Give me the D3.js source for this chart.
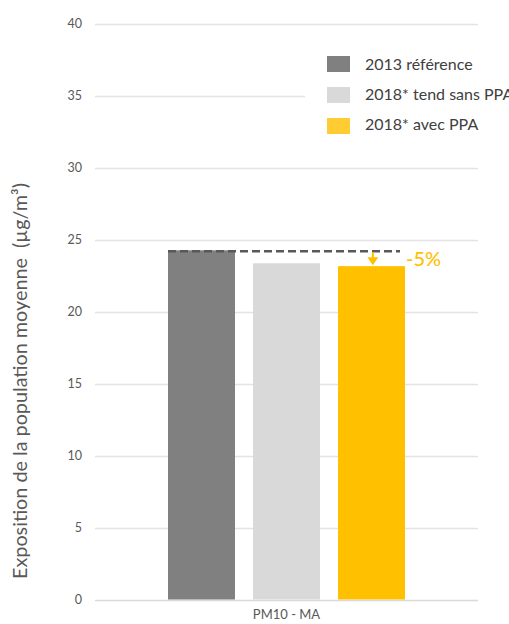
<!DOCTYPE html>
<html><head><meta charset="utf-8">
<script src="https://cdn.jsdelivr.net/npm/d3@7"></script>
<style>body{margin:0;background:#fff;overflow:hidden}svg{display:block}</style>
</head><body>
<script>
const categories = ["PM10 - MA"];
const seriesNames = ["2013 référence", "2018* tend sans PPA", "2018* avec PPA"];
const seriesValues = [24.25, 23.35, 23.15];
const seriesColors = ["#808080", "#D9D9D9", "#FFC000"];
const legendColors = ["#808080", "#D9D9D9", "#FFCC33"];
const yTicks = [0, 5, 10, 15, 20, 25, 30, 35, 40];
const annotationText = "-5%";
const yTitle = "Exposition de la population moyenne  (µg/m³)";

const W = 509, H = 624;
const font = "Lato, 'Noto Sans', sans-serif";
const svg = d3.select("body").append("svg").attr("width", W).attr("height", H);

const plotLeft = 95, plotRight = 478, plotTop = 23.5, plotBottom = 599.5;
const y = d3.scaleLinear().domain([0, 40]).range([plotBottom, plotTop]);
const x0 = d3.scaleBand().domain(categories).range([plotLeft, plotRight]).paddingInner(0).paddingOuter(0.308);
const x1 = d3.scaleBand().domain(seriesNames).range([0, x0.bandwidth()]).paddingInner(0.212).paddingOuter(0);

// gridlines
svg.append("g").selectAll("line").data(yTicks).join("line")
  .attr("x1", plotLeft).attr("x2", plotRight)
  .attr("y1", d => Math.round(y(d)) + 0.5).attr("y2", d => Math.round(y(d)) + 0.5)
  .attr("stroke", d => d === 0 ? "#D9D9D9" : "#E3E3E3").attr("stroke-width", 1.3);

// y axis labels
const yAxis = d3.axisLeft(y).tickValues(yTicks).tickSize(0).tickPadding(0);
const ga = svg.append("g").attr("transform", `translate(82,0)`).call(yAxis);
ga.select(".domain").remove();
ga.selectAll("text").attr("font-family", font).attr("font-size", 12.5).attr("fill", "#595959");

// bars
const g = svg.append("g");
categories.forEach(c => {
  g.selectAll("rect").data(seriesValues).join("rect")
    .attr("x", (d, i) => x0(c) + x1(seriesNames[i]))
    .attr("width", x1.bandwidth())
    .attr("y", d => y(d))
    .attr("height", d => y(0) - y(d))
    .attr("fill", (d, i) => seriesColors[i]);
});

// x axis label
const xAxis = d3.axisBottom(x0).tickSize(0).tickPadding(0);
const gx = svg.append("g").attr("transform", `translate(0,610)`).call(xAxis);
gx.select(".domain").remove();
gx.selectAll("text").attr("font-family", font).attr("font-size", 13).attr("fill", "#595959");

// dashed reference line
const cat = categories[0];
const refY = y(seriesValues[0]) + 1;
const lastX = x0(cat) + x1(seriesNames[2]);
svg.append("line")
  .attr("x1", x0(cat) + x1(seriesNames[0])).attr("x2", lastX + x1.bandwidth() - 5)
  .attr("y1", refY).attr("y2", refY)
  .attr("stroke", "#595959").attr("stroke-width", 2.6).attr("stroke-dasharray", "8,4");

// arrow
const ax = lastX + x1.bandwidth() * 0.52;
svg.append("line").attr("x1", ax).attr("x2", ax).attr("y1", refY + 1).attr("y2", y(seriesValues[2]) - 7)
  .attr("stroke", "#FFC000").attr("stroke-width", 2);
svg.append("path")
  .attr("d", `M${ax - 5.5},${y(seriesValues[2]) - 9} L${ax + 5.5},${y(seriesValues[2]) - 9} L${ax},${y(seriesValues[2]) - 1} Z`)
  .attr("fill", "#FFC000");
svg.append("text").attr("x", lastX + x1.bandwidth() + 1).attr("y", y(seriesValues[2]) - 0.5)
  .attr("font-family", font).attr("font-size", 20).attr("font-weight", 500).attr("fill", "#FFC000").text(annotationText);

// legend
const lg = svg.append("g");
lg.append("rect").attr("x", 305).attr("y", 44).attr("width", 204).attr("height", 98).attr("fill", "#fff");
seriesNames.forEach((s, i) => {
  lg.append("rect").attr("x", 327).attr("y", 56 + i * 31).attr("width", 23).attr("height", 16).attr("fill", legendColors[i]);
  lg.append("text").attr("x", 365).attr("y", 69.5 + i * 30).attr("font-family", font).attr("font-size", 16)
    .attr("fill", "#404040").text(s);
});

// y title
svg.append("text").attr("transform", `translate(27,381) rotate(-90)`)
  .attr("text-anchor", "middle").attr("font-family", font).attr("font-size", 19.8)
  .attr("xml:space", "preserve").style("white-space", "pre")
  .attr("fill", "#595959").text(yTitle);
</script>
</body></html>
